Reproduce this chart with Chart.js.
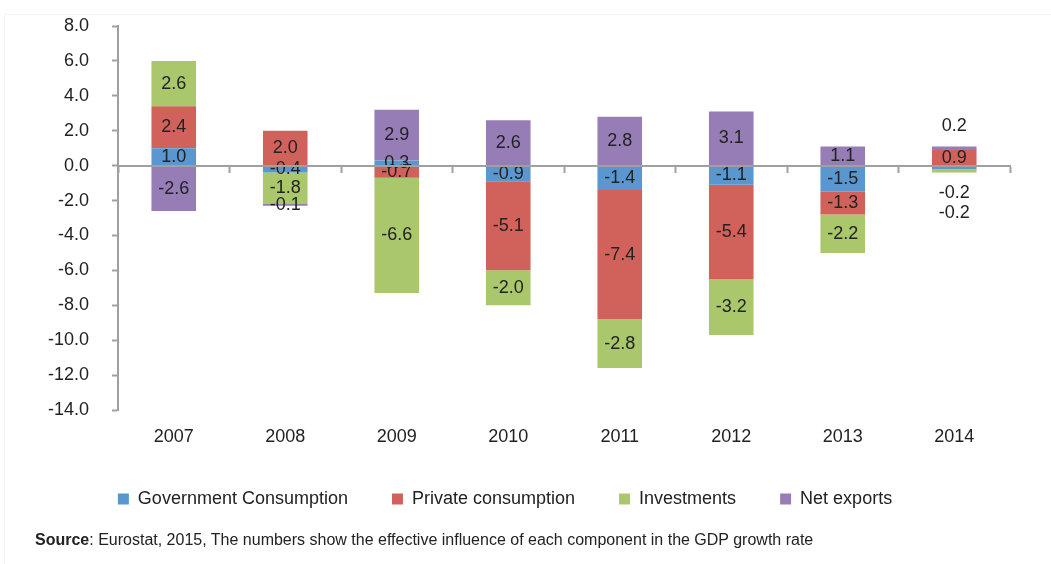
<!DOCTYPE html>
<html>
<head>
    <meta charset="UTF-8">
    <title>GDP growth components</title>
    <script src="https://cdn.jsdelivr.net/npm/chart.js"></script>
    <style>
        body {
            margin: 0;
            background: #fff;
            font-family: 'Liberation Sans', Arial, sans-serif;
        }
        .wrap {
            position: relative;
            width: 1051px;
            height: 564px;
        }
        .frame {
            position: absolute;
            left: 4px;
            top: 14px;
            right: 0;
            bottom: 0;
            border-left: 1px solid #f2f2f2;
            border-top: 1px solid #f4f4f4;
        }
        #chart {
            position: absolute;
            left: 0;
            top: 0;
        }
        .source {
            position: absolute;
            left: 35px;
            top: 531px;
            font-size: 16px;
            color: #222;
            white-space: nowrap;
        }
    </style>
</head>
<body>
    <div class="wrap">
        <div class="frame"></div>
        <canvas id="chart" width="1051" height="564"></canvas>
        <div class="source"><b>Source</b>: Eurostat, 2015, The numbers show the effective influence of each component in the GDP growth rate</div>
    </div>

    <script>
        // data
        const years = ['2007', '2008', '2009', '2010', '2011', '2012', '2013', '2014'];
        const govConsumption = [1.0, -0.4, 0.3, -0.9, -1.4, -1.1, -1.5, -0.2];
        const privConsumption = [2.4, 2.0, -0.7, -5.1, -7.4, -5.4, -1.3, 0.9];
        const investments = [2.6, -1.8, -6.6, -2.0, -2.8, -3.2, -2.2, -0.2];
        const netExports = [-2.6, -0.1, 2.9, 2.6, 2.8, 3.1, 1.1, 0.2];
        const yTicks = { min: -14, max: 8, step: 2 };

        // labels of tiny segments in this year are put outside the bar
        const outsideCategory = '2014';

        const font = "'Liberation Sans', Arial, sans-serif";
        Chart.defaults.font.family = font;
        Chart.defaults.font.size = 18;
        Chart.defaults.color = '#222';

        const valueLabels = {
            id: 'valueLabels',
            afterDatasetsDraw(chart) {
                const ctx = chart.ctx;
                ctx.save();
                ctx.font = '18px ' + font;
                ctx.fillStyle = '#222';
                ctx.textAlign = 'center';
                ctx.textBaseline = 'middle';

                // extent of each stack
                const tops = [], bottoms = [];
                chart.data.datasets.forEach((ds, di) => {
                    chart.getDatasetMeta(di).data.forEach((bar, i) => {
                        const a = Math.min(bar.y, bar.base), b = Math.max(bar.y, bar.base);
                        tops[i] = tops[i] === undefined ? a : Math.min(tops[i], a);
                        bottoms[i] = bottoms[i] === undefined ? b : Math.max(bottoms[i], b);
                    });
                });

                const belowCount = [];
                chart.data.datasets.forEach((ds, di) => {
                    chart.getDatasetMeta(di).data.forEach((bar, i) => {
                        const v = ds.data[i];
                        let y = (bar.y + bar.base) / 2;
                        if (chart.data.labels[i] === outsideCategory && Math.abs(v) < 0.5) {
                            if (v >= 0) {
                                y = tops[i] - 20;
                            } else {
                                belowCount[i] = (belowCount[i] || 0) + 1;
                                y = bottoms[i] + belowCount[i] * 20;
                            }
                        }
                        ctx.fillText(v.toFixed(1), bar.x, y);
                    });
                });
                ctx.restore();
            }
        };

        const ctx = document.getElementById('chart').getContext('2d');
        new Chart(ctx, {
            type: 'bar',
            data: {
                labels: years,
                datasets: [
                    { label: 'Government Consumption', data: govConsumption, backgroundColor: '#5b97cf' },
                    { label: 'Private consumption', data: privConsumption, backgroundColor: '#d1625b' },
                    { label: 'Investments', data: investments, backgroundColor: '#aac76b' },
                    { label: 'Net exports', data: netExports, backgroundColor: '#977db5' }
                ]
            },
            options: {
                responsive: false,
                animation: false,
                layout: {
                    padding: { left: 0, right: 41, top: 26, bottom: 46 }
                },
                datasets: {
                    bar: {
                        barPercentage: 0.4,
                        categoryPercentage: 1.0,
                        borderWidth: 0
                    }
                },
                plugins: {
                    tooltip: { enabled: false },
                    legend: {
                        position: 'bottom',
                        labels: {
                            boxWidth: 11,
                            boxHeight: 11,
                            padding: 44,
                            color: '#222',
                            font: { size: 18 }
                        }
                    }
                },
                scales: {
                    x: {
                        stacked: true,
                        grid: { display: false, drawTicks: false },
                        border: { display: false },
                        ticks: { padding: 18, color: '#222', font: { size: 18, lineHeight: 1 } },
                        afterFit(scale) { scale.height = 36; }
                    },
                    // axis line through zero with tick marks between years
                    x2: {
                        type: 'category',
                        axis: 'x',
                        position: { y: 0 },
                        offset: true,
                        labels: years,
                        grid: {
                            offset: true,
                            drawOnChartArea: false,
                            tickLength: 6,
                            tickWidth: 2,
                            color: '#a0a0a0',
                            z: 1
                        },
                        border: { color: '#a0a0a0', width: 2, z: 1 },
                        ticks: { display: false },
                        afterFit(scale) { scale.height = 0; }
                    },
                    y: {
                        stacked: true,
                        min: yTicks.min,
                        max: yTicks.max,
                        ticks: {
                            stepSize: yTicks.step,
                            padding: 23,
                            color: '#222',
                            font: { size: 18 },
                            callback: (v) => Number(v).toFixed(1)
                        },
                        grid: {
                            drawOnChartArea: false,
                            tickLength: 6,
                            tickWidth: 2,
                            color: '#a0a0a0'
                        },
                        border: { color: '#a0a0a0', width: 2 },
                        afterFit(scale) {
                            scale.width = 118;
                            scale.paddingTop = 0;
                            scale.paddingBottom = 0;
                        }
                    }
                }
            },
            plugins: [valueLabels]
        });
    </script>
</body>
</html>
